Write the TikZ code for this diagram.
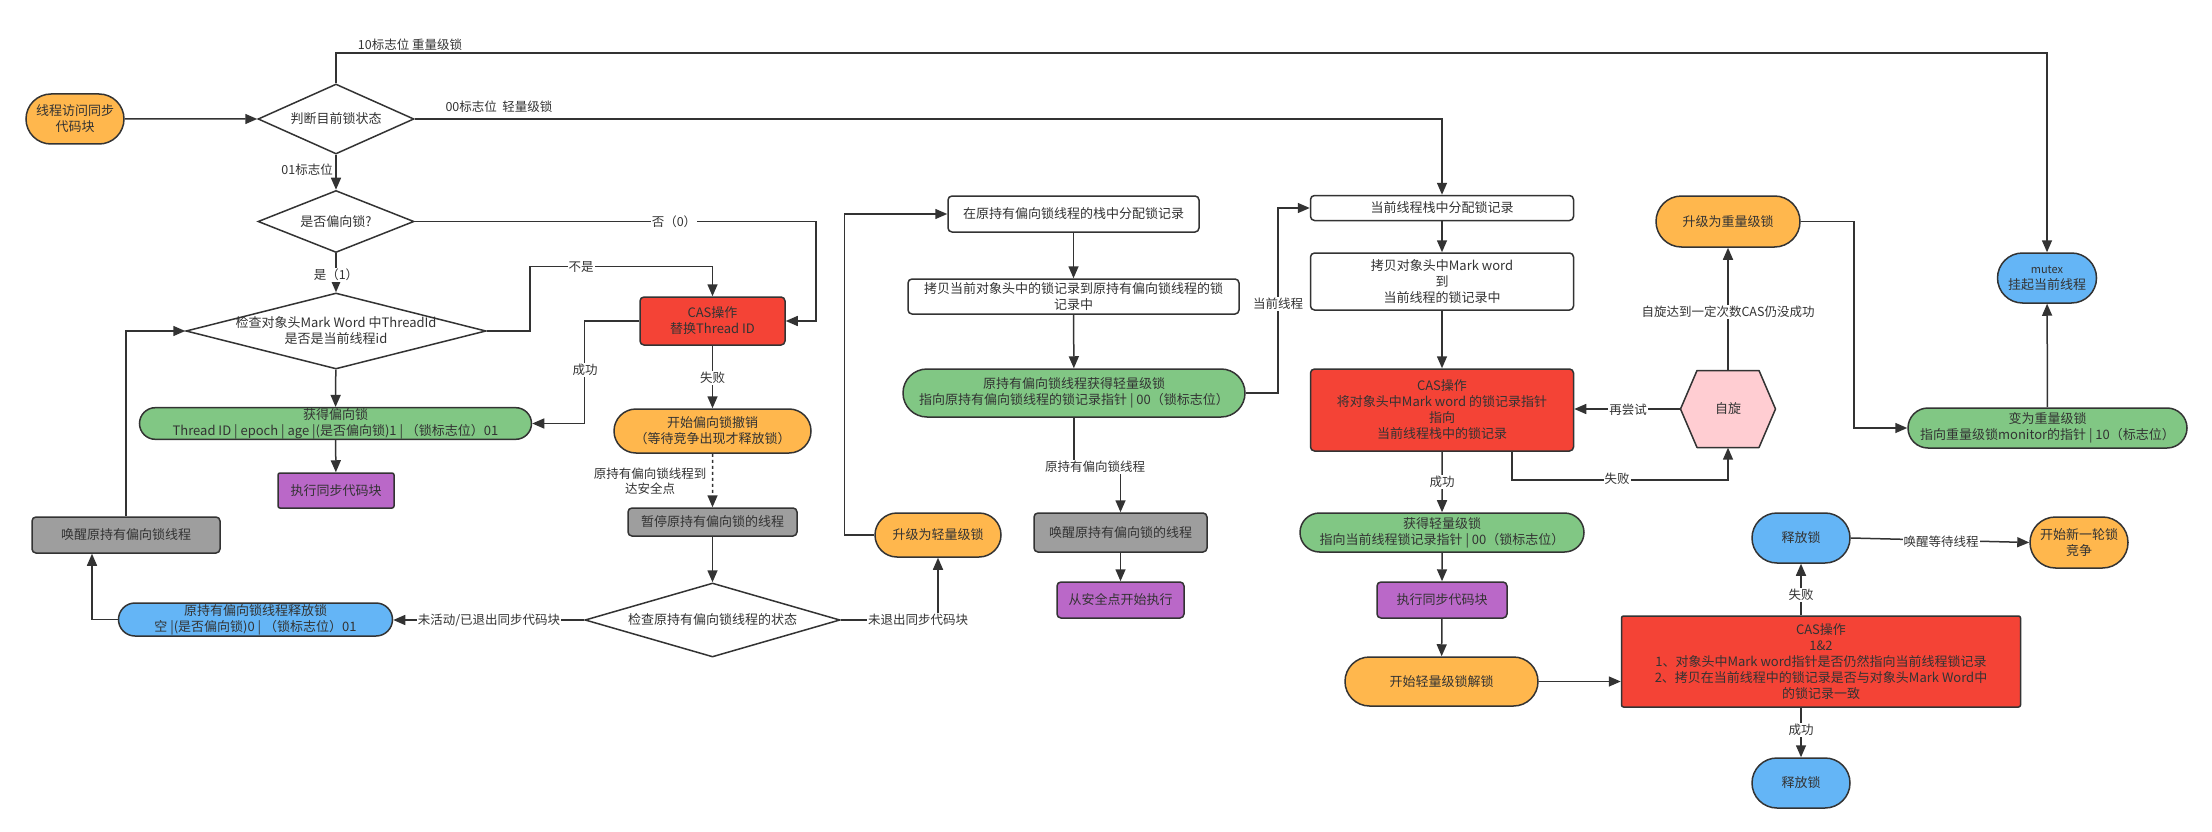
\documentclass[tikz,border=0pt]{standalone}
\usepackage{fontspec}
\setmainfont{Noto Sans CJK SC}
\usetikzlibrary{arrows.meta,shapes.geometric,shapes.misc}
\definecolor{ln}{HTML}{333333}
\definecolor{cor}{HTML}{FFB74D}
\definecolor{cgr}{HTML}{81C784}
\definecolor{cred}{HTML}{F44336}
\definecolor{cpu}{HTML}{BA68C8}
\definecolor{cgy}{HTML}{9E9E9E}
\definecolor{cbl}{HTML}{64B5F6}
\definecolor{cpk}{HTML}{FFCDD2}
\begin{document}
\begin{tikzpicture}[x=1pt,y=-1pt,
  font=\fontsize{13pt}{16pt}\selectfont, text=ln,
  base/.style={draw=ln, line width=1.5pt, align=center, inner sep=1pt},
  pill/.style={base, rounded rectangle},
  box/.style={base, rectangle, rounded corners=4pt},
  dia/.style={draw=ln, line width=1.5pt, diamond, inner sep=0pt},
  arr/.style={draw=ln, line width=1.5pt, -{Triangle[length=12pt,width=10pt]}},
  lbl/.style={fill=white, inner sep=1pt, text=ln, font=\fontsize{12.5pt}{15pt}\selectfont},
  lbla/.style={inner sep=1pt, text=ln, font=\fontsize{12.5pt}{15pt}\selectfont},
  sz/.style 2 args={minimum width=#1pt, minimum height=#2pt},
]
\useasboundingbox[fill=white] (0,0) rectangle (2212,832);

% ---------- nodes ----------
\node[pill, fill=cor, sz={100}{50}] (start) at (75,119) {线程访问同步\\代码块};
\node[dia, sz={156}{70}, label={center:判断目前锁状态}] (d1) at (336,119) {};
\node[dia, sz={156}{62}, label={center:是否偏向锁?}] (d2) at (336,221.5) {};
\node[dia, sz={300}{76}, label={[align=center]center:检查对象头Mark Word 中ThreadId\\是否是当前线程id}] (d3) at (336,331) {};
\node[pill, fill=cgr, sz={393}{31}, inner sep=0.5pt] (g1) at (335.5,423.5) {获得偏向锁\\Thread ID | epoch | age |(是否偏向锁)1 | （锁标志位）01};
\node[box, fill=cpu, sz={116}{35}, rounded corners=2pt] (p1) at (336,490.5) {执行同步代码块};
\node[box, fill=cgy, sz={188}{36}] (gr1) at (126,535) {唤醒原持有偏向锁线程};
\node[pill, fill=cbl, sz={275}{33}, inner sep=0.5pt] (b1) at (255.5,619.5) {原持有偏向锁线程释放锁\\空 |(是否偏向锁)0 | （锁标志位）01};
\node[box, fill=cred, sz={145}{48}] (cas1) at (712.5,321) {CAS操作\\替换Thread ID};
\node[pill, fill=cor, sz={199}{44}] (o1) at (712.5,431) {开始偏向锁撤销\\（等待竞争出现才释放锁）};
\node[box, fill=cgy, sz={169}{28}] (gr2) at (712.5,522) {暂停原持有偏向锁的线程};
\node[dia, sz={255}{74}, label={center:检查原持有偏向锁线程的状态}] (d4) at (712.5,620) {};
\node[pill, fill=cor, sz={128}{44}] (o2) at (938,535) {升级为轻量级锁};
\node[box, fill=white, sz={251}{36}] (w1) at (1073.5,214) {在原持有偏向锁线程的栈中分配锁记录};
\node[box, fill=white, sz={331}{35}] (w2) at (1073.5,296.5) {拷贝当前对象头中的锁记录到原持有偏向锁线程的锁\\记录中};
\node[pill, fill=cgr, sz={344}{48}] (g2) at (1074,393) {原持有偏向锁线程获得轻量级锁\\指向原持有偏向锁线程的锁记录指针 | 00（锁标志位）};
\node[box, fill=cgy, sz={173}{39}] (gr3) at (1120.5,532.5) {唤醒原持有偏向锁的线程};
\node[box, fill=cpu, sz={127}{36}] (p2) at (1120.5,600) {从安全点开始执行};
\node[box, fill=white, sz={263}{25}] (w3) at (1442,208) {当前线程栈中分配锁记录};
\node[box, fill=white, sz={263}{57}] (w4) at (1442,281.5) {拷贝对象头中Mark word\\到\\当前线程的锁记录中};
\node[box, fill=cred, sz={263}{82}] (red2) at (1442,410) {CAS操作\\将对象头中Mark word 的锁记录指针\\指向\\当前线程栈中的锁记录};
\filldraw[draw=ln, fill=cpk, line width=1.5pt, line join=round] (1680.5,409) -- (1697,370.5) -- (1759,370.5) -- (1775.5,409) -- (1759,447.5) -- (1697,447.5) -- cycle;
\node[inner sep=0pt, sz={95}{77}] (spin) at (1728,409) {自旋};
\node[pill, fill=cor, sz={146}{51}] (o3) at (1728,221.5) {升级为重量级锁};
\node[pill, fill=cbl, sz={101}{50}] (mutex) at (2047,278) {{\fontsize{11pt}{13pt}\selectfont mutex}\\挂起当前线程};
\node[pill, fill=cgr, sz={281}{40}] (g3) at (2047.5,428) {变为重量级锁\\指向重量级锁monitor的指针 | 10（标志位）};
\node[pill, fill=cgr, sz={286}{39}] (g4) at (1442,532.5) {获得轻量级锁\\指向当前线程锁记录指针 | 00（锁标志位）};
\node[box, fill=cpu, sz={130}{36}] (p3) at (1442,600) {执行同步代码块};
\node[pill, fill=cor, sz={195}{49}] (o4) at (1441.5,681.5) {开始轻量级锁解锁};
\node[box, fill=cred, sz={399}{91}, rounded corners=2pt] (red3) at (1821,661.5) {CAS操作\\1\&2\\1、对象头中Mark word指针是否仍然指向当前线程锁记录\\2、拷贝在当前线程中的锁记录是否与对象头Mark Word中\\的锁记录一致};
\node[pill, fill=cbl, sz={100}{50}] (bl2) at (1801,538) {释放锁};
\node[pill, fill=cor, sz={100}{51}] (o5) at (2079,542.5) {开始新一轮锁\\竞争};
\node[pill, fill=cbl, sz={100}{50}] (bl3) at (1801,783) {释放锁};

% ---------- connectors ----------
\draw[arr] (start) -- (d1);
\draw[arr] (d1.north) -- ++(0,-30) -| (mutex.north);
\draw[arr] (d1.east) -| (w3.north);
\draw[arr] (d1) -- (d2);
\draw[arr] (d2) -- (d3);
\draw[arr] (d2.east) -| ([xshift=30pt]cas1.east) -- (cas1.east);
\draw[arr] (d3.east) -- ++(43,0) |- ([yshift=30pt]cas1.north) -- (cas1.north);
\draw[arr] (d3) -- (g1);
\draw[arr] (g1) -- (p1);
\draw[arr] (cas1.west) -- ++(-55,0) |- (g1.east);
\draw[arr] (gr1.north) |- (d3.west);
\draw[arr] (b1.west) -| ([xshift=-34pt]gr1.south);
\draw[arr] (cas1) -- (o1);
\draw[arr, dash pattern=on 3pt off 3pt] (o1) -- (gr2);
\draw[arr] (gr2) -- (d4);
\draw[arr] (d4.west) -- (d4.west -| b1.east);
\draw[arr] (d4.east) -| (o2.south);
\draw[arr] (o2.west) -- ++(-30,0) |- (w1.west);
\draw[arr] (w1) -- (w2);
\draw[arr] (w2) -- (g2);
\draw[arr] (g2.east) -- ++(32,0) |- (w3.west);
\draw[arr] (g2.south) -- ++(0,50) -| (gr3.north);
\draw[arr] (gr3) -- (p2);
\draw[arr] (w3) -- (w4);
\draw[arr] (w4) -- (red2);
\draw[arr] (red2) -- (g4);
\draw[arr] ([xshift=70pt]red2.south) -- ++(0,28) -| (spin.south);
\draw[arr] (spin.west) -- (spin.west -| red2.east);
\draw[arr] (spin.north) -- (o3.south);
\draw[arr] (o3.east) -- ++(53,0) |- (g3.west);
\draw[arr] (g3) -- (mutex);
\draw[arr] (g4) -- (p3);
\draw[arr] (p3) -- (o4);
\draw[arr] (o4.east) -- (o4.east -| red3.west);
\draw[arr] (bl2.south |- red3.north) -- (bl2.south);
\draw[arr] (bl3.north |- red3.south) -- (bl3.north);
\draw[arr] (bl2.east) -- (o5.west);

% ---------- labels ----------
\node[lbla] (l10) at (410,45) {10标志位 重量级锁};
\node[lbla] (l00) at (499,107) {00标志位\ \ 轻量级锁};
\node[lbla, anchor=east] (l01) at (334,170) {01标志位};
\node[lbl] (lyes) at (336,275) {是（1）};
\node[lbl] (lno) at (674,221.5) {否（0）};
\node[lbl] (lnot) at (581,267) {不是};
\node[lbl] (lsucc1) at (585,370) {成功};
\node[lbl] (lfail1) at (712.5,378) {失败};
\node[lbla, align=center] (lsafe) at (650,481) {原持有偏向锁线程到\\达安全点};
\node[lbl] (linact) at (489,620) {未活动/已退出同步代码块};
\node[lbl] (lnotex) at (918,620) {未退出同步代码块};
\node[lbl] (lcur) at (1278,304) {当前线程};
\node[lbl] (lorig) at (1095,467) {原持有偏向锁线程};
\node[lbl] (lretry) at (1628,410) {再尝试};
\node[lbl] (lfail2) at (1617,479) {失败};
\node[lbl] (lspin) at (1728,312) {自旋达到一定次数CAS仍没成功};
\node[lbl] (lsucc2) at (1442,482) {成功};
\node[lbl] (lfail3) at (1801,595) {失败};
\node[lbl] (lsucc3) at (1801,730) {成功};
\node[lbl] (lwake) at (1941,542) {唤醒等待线程};
\end{tikzpicture}
\end{document}
